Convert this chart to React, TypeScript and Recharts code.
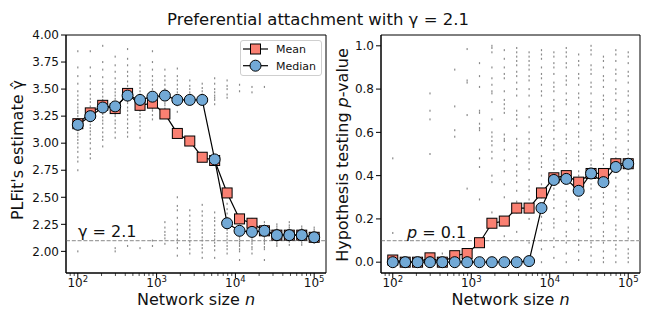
import React from 'react';
import {
  ComposedChart,
  Line,
  Scatter,
  XAxis,
  YAxis,
  ReferenceLine,
  ReferenceArea,
  Legend,
} from 'recharts';

const FONT = '"DejaVu Sans", sans-serif';
const TXT = '#111';
const MEAN_COLOR = '#FA8072';
const MEDIAN_COLOR = '#72A9D6';
const DOT_COLOR = '#8a8a8a';
const REF_COLOR = '#a0a0a0';

// ---------- data ----------
const nValues = [
  100, 144, 207, 298, 428, 616, 886, 1274, 1833, 2637, 3793, 5456, 7848, 11288,
  16238, 23357, 33598, 48329, 69519, 100000,
];

const meanGamma = [
  3.18, 3.28, 3.35, 3.32, 3.46, 3.35, 3.37, 3.27, 3.09, 3.02, 2.87, 2.84, 2.54,
  2.3, 2.26, 2.19, 2.15, 2.15, 2.15, 2.13,
];
const medianGamma = [
  3.17, 3.25, 3.33, 3.34, 3.44, 3.4, 3.43, 3.44, 3.4, 3.4, 3.4, 2.85, 2.26, 2.19,
  2.18, 2.19, 2.15, 2.15, 2.15, 2.13,
];

const meanP = [
  0.01, 0.0, 0.0, 0.02, 0.0, 0.03, 0.04, 0.09, 0.18, 0.19, 0.25, 0.25, 0.32,
  0.39, 0.4, 0.37, 0.41, 0.41, 0.455, 0.455,
];
const medianP = [
  0, 0, 0, 0, 0, 0, 0, 0, 0, 0, 0, 0.005, 0.25, 0.38, 0.385, 0.33, 0.41, 0.37,
  0.44, 0.455,
];

const gammaSamples = [
  [3.85, 3.7, 3.62, 3.55, 3.48, 3.44, 3.4, 3.36, 3.33, 3.3, 3.28, 3.25, 3.22, 3.2, 3.17, 3.14, 3.12, 3.09, 3.06, 3.03, 3.0, 2.96, 2.92, 2.87, 2.83, 2.75, 2.0],
  [3.85, 3.7, 3.62, 3.55, 3.5, 3.45, 3.41, 3.38, 3.34, 3.3, 3.27, 3.25, 3.22, 3.2, 3.17, 3.14, 3.11, 3.08, 3.04, 3.0, 2.95, 2.9, 2.86],
  [3.9, 3.75, 3.68, 3.61, 3.55, 3.5, 3.47, 3.43, 3.4, 3.37, 3.35, 3.32, 3.3, 3.27, 3.24, 3.21, 3.18, 3.14, 3.1, 3.06, 3.03, 2.97],
  [3.8, 3.72, 3.66, 3.6, 3.55, 3.5, 3.47, 3.44, 3.41, 3.38, 3.36, 3.33, 3.3, 3.27, 3.25, 3.21, 3.18, 3.14, 3.1, 3.05, 2.03, 2.0],
  [3.87, 3.78, 3.72, 3.66, 3.62, 3.57, 3.53, 3.49, 3.46, 3.44, 3.42, 3.39, 3.37, 3.33, 3.3, 3.26, 3.22, 3.18, 3.14, 3.1, 3.06, 2.05],
  [3.72, 3.66, 3.62, 3.58, 3.55, 3.51, 3.48, 3.45, 3.42, 3.4, 3.38, 3.35, 3.33, 3.3, 3.27, 3.24, 3.2, 3.16, 3.12, 3.05, 2.03],
  [3.85, 3.75, 3.68, 3.62, 3.58, 3.54, 3.5, 3.47, 3.44, 3.42, 3.4, 3.37, 3.35, 3.32, 3.3, 3.26, 3.22, 2.1, 2.05],
  [3.68, 3.62, 3.58, 3.54, 3.5, 3.47, 3.45, 3.43, 3.4, 3.37, 3.35, 3.32, 2.27, 2.22, 2.18, 2.15, 2.12, 2.07],
  [3.69, 3.62, 3.58, 3.54, 3.5, 3.47, 3.44, 3.42, 3.4, 3.37, 3.35, 3.29, 2.5, 2.42, 2.38, 2.31, 2.25, 2.2, 2.15, 2.11, 2.08, 2.03, 1.96],
  [3.58, 3.53, 3.5, 3.47, 3.45, 3.42, 3.4, 3.38, 2.38, 2.33, 2.28, 2.24, 2.2, 2.16, 2.13, 2.09, 2.06, 2.02, 1.98],
  [3.55, 3.51, 3.48, 3.45, 3.42, 3.4, 3.37, 2.43, 2.37, 2.33, 2.28, 2.24, 2.2, 2.17, 2.13, 2.1, 2.06, 2.03, 1.99, 1.94],
  [3.6, 3.55, 3.5, 3.47, 3.44, 3.42, 3.4, 3.36, 2.36, 2.31, 2.28, 2.24, 2.2, 2.17, 2.14, 2.11, 2.08, 2.05, 2.01, 1.94],
  [3.58, 3.53, 3.5, 3.45, 3.42, 2.44, 2.39, 2.35, 2.31, 2.27, 2.23, 2.2, 2.17, 2.14, 2.11, 2.08, 2.05, 2.02, 1.98],
  [3.54, 3.48, 2.32, 2.29, 2.26, 2.23, 2.21, 2.19, 2.17, 2.15, 2.13, 2.11, 2.09, 2.07, 2.05, 2.02, 2.0, 1.92],
  [3.52, 3.47, 2.3, 2.27, 2.24, 2.21, 2.19, 2.17, 2.15, 2.13, 2.11, 2.09, 2.07, 2.04, 2.02, 1.98],
  [3.52, 2.27, 2.24, 2.22, 2.2, 2.18, 2.16, 2.15, 2.13, 2.11, 2.09, 2.07, 2.04, 2.02, 1.92],
  [2.25, 2.23, 2.21, 2.19, 2.18, 2.16, 2.15, 2.14, 2.12, 2.11, 2.09, 2.07, 2.05],
  [2.27, 2.24, 2.22, 2.2, 2.18, 2.16, 2.15, 2.14, 2.12, 2.1, 2.09, 2.06],
  [2.23, 2.21, 2.2, 2.18, 2.17, 2.15, 2.14, 2.13, 2.11, 2.1, 2.08, 2.06],
  [2.22, 2.2, 2.18, 2.16, 2.15, 2.14, 2.13, 2.12, 2.11, 2.09, 2.08],
];

const pSamples = [
  [0.48, 0.135, 0.02, 0.0],
  [0.01, 0.0],
  [0.0, 0.0],
  [0.78, 0.7, 0.66, 0.5, 0.0],
  [0.04, 0.0],
  [0.89, 0.72, 0.61, 0.58, 0.02, 0.0],
  [0.985, 0.84, 0.83, 0.68, 0.34, 0.03, 0.0],
  [0.92, 0.86, 0.81, 0.7, 0.69, 0.64, 0.62, 0.61, 0.52, 0.48, 0.44, 0.29, 0.0],
  [1.0, 0.99, 0.97, 0.9, 0.85, 0.82, 0.79, 0.78, 0.74, 0.66, 0.6, 0.58, 0.56, 0.54, 0.51, 0.48, 0.4, 0.37, 0.23, 0.0],
  [0.98, 0.94, 0.9, 0.87, 0.85, 0.79, 0.75, 0.73, 0.71, 0.69, 0.59, 0.57, 0.56, 0.52, 0.47, 0.42, 0.36, 0.3, 0.12, 0.0],
  [0.99, 0.97, 0.95, 0.93, 0.91, 0.88, 0.86, 0.83, 0.8, 0.77, 0.7, 0.68, 0.66, 0.63, 0.57, 0.54, 0.52, 0.49, 0.45, 0.42, 0.4, 0.37, 0.33, 0.28, 0.23, 0.14, 0.0],
  [0.97, 0.95, 0.93, 0.91, 0.89, 0.86, 0.84, 0.8, 0.77, 0.72, 0.67, 0.6, 0.57, 0.55, 0.51, 0.48, 0.46, 0.43, 0.38, 0.35, 0.33, 0.29, 0.26, 0.2, 0.09, 0.0],
  [0.98, 0.96, 0.94, 0.9, 0.87, 0.85, 0.82, 0.79, 0.77, 0.72, 0.69, 0.66, 0.63, 0.58, 0.56, 0.54, 0.49, 0.46, 0.44, 0.4, 0.36, 0.33, 0.3, 0.25, 0.21, 0.18, 0.15, 0.1, 0.06, 0.0],
  [0.97, 0.95, 0.92, 0.9, 0.87, 0.83, 0.81, 0.79, 0.75, 0.72, 0.7, 0.65, 0.63, 0.61, 0.57, 0.54, 0.52, 0.47, 0.45, 0.43, 0.38, 0.34, 0.31, 0.29, 0.25, 0.2, 0.18, 0.16, 0.11, 0.07, 0.02],
  [0.99, 0.97, 0.95, 0.92, 0.9, 0.86, 0.84, 0.82, 0.78, 0.75, 0.73, 0.68, 0.66, 0.64, 0.59, 0.57, 0.55, 0.5, 0.48, 0.46, 0.41, 0.39, 0.37, 0.33, 0.28, 0.26, 0.23, 0.19, 0.14, 0.12, 0.09, 0.04, 0.0],
  [0.96, 0.93, 0.91, 0.87, 0.85, 0.82, 0.78, 0.76, 0.73, 0.69, 0.67, 0.64, 0.6, 0.58, 0.55, 0.51, 0.49, 0.47, 0.42, 0.4, 0.38, 0.33, 0.31, 0.29, 0.24, 0.21, 0.19, 0.15, 0.1, 0.08, 0.05, 0.01],
  [1.0, 0.98, 0.96, 0.91, 0.89, 0.87, 0.83, 0.81, 0.78, 0.74, 0.72, 0.69, 0.65, 0.63, 0.61, 0.56, 0.54, 0.52, 0.47, 0.45, 0.43, 0.39, 0.36, 0.34, 0.3, 0.27, 0.25, 0.21, 0.18, 0.16, 0.12, 0.09, 0.07, 0.03, 0.0],
  [0.95, 0.93, 0.9, 0.86, 0.84, 0.81, 0.77, 0.75, 0.72, 0.68, 0.66, 0.63, 0.59, 0.57, 0.54, 0.5, 0.48, 0.45, 0.41, 0.39, 0.36, 0.32, 0.3, 0.27, 0.23, 0.21, 0.18, 0.14, 0.12, 0.09, 0.05, 0.02, 0.0],
  [0.98, 0.96, 0.93, 0.89, 0.87, 0.84, 0.8, 0.78, 0.75, 0.71, 0.69, 0.66, 0.62, 0.6, 0.57, 0.53, 0.51, 0.48, 0.44, 0.42, 0.39, 0.35, 0.33, 0.3, 0.26, 0.24, 0.21, 0.17, 0.15, 0.12, 0.08, 0.06, 0.03, 0.0],
  [0.97, 0.95, 0.92, 0.88, 0.86, 0.83, 0.79, 0.77, 0.74, 0.7, 0.68, 0.65, 0.61, 0.59, 0.56, 0.52, 0.5, 0.47, 0.43, 0.41, 0.38, 0.34, 0.32, 0.29, 0.25, 0.23, 0.2, 0.16, 0.14, 0.11, 0.06, 0.04, 0.02, 0.0],
];

const xTicks = [
  80, 90, 100, 200, 300, 400, 500, 600, 700, 800, 900, 1000, 2000, 3000, 4000,
  5000, 6000, 7000, 8000, 9000, 10000, 20000, 30000, 40000, 50000, 60000, 70000,
  80000, 90000, 100000,
];
const gammaTicks = [2.0, 2.25, 2.5, 2.75, 3.0, 3.25, 3.5, 3.75, 4.0];
const pTicks = [0.0, 0.2, 0.4, 0.6, 0.8, 1.0];

const X_DOMAIN: [number, number] = [Math.pow(10, 1.85), Math.pow(10, 5.15)];
const GAMMA_DOMAIN: [number, number] = [1.8, 4.0];
const P_DOMAIN: [number, number] = [-0.05, 1.05];

// ---------- derived tables ----------
const gammaRows = nValues.map((n, i) => ({ n, mean: meanGamma[i], median: medianGamma[i] }));
const pRows = nValues.map((n, i) => ({ n, mean: meanP[i], median: medianP[i] }));
const gammaPoints = gammaSamples.flatMap((col, i) => col.map((v) => ({ n: nValues[i], v })));
const pPoints = pSamples.flatMap((col, i) => col.map((v) => ({ n: nValues[i], v })));

// ---------- renderers ----------
const isMajor = (v: number) => Math.abs(Math.log10(v) - Math.round(Math.log10(v))) < 1e-9;

function LogTick(props: any) {
  const { x, y, payload } = props;
  const v = payload.value as number;
  const major = isMajor(v);
  return (
    <g>
      <line x1={x} x2={x} y1={y} y2={y + (major ? 5 : 3)} stroke="#000" strokeWidth={major ? 1 : 0.7} />
      {major && (
        <text x={x} y={y + 14} textAnchor="middle" fontSize={12} fontFamily={FONT} fill={TXT}>
          10
          <tspan dy={-5.5} fontSize={8.5}>
            {Math.round(Math.log10(v))}
          </tspan>
        </text>
      )}
    </g>
  );
}

const squareDot = (p: any) => {
  if (p.cx == null || p.cy == null) return <g key={`s${p.index}`} />;
  return (
    <rect key={`s${p.index}`} x={p.cx - 5} y={p.cy - 5} width={10} height={10} fill={MEAN_COLOR} stroke="#000" strokeWidth={1} />
  );
};
const circleDot = (p: any) => {
  if (p.cx == null || p.cy == null) return <g key={`c${p.index}`} />;
  return <circle key={`c${p.index}`} cx={p.cx} cy={p.cy} r={5.5} fill={MEDIAN_COLOR} stroke="#000" strokeWidth={1} />;
};
const sampleShape = (p: any) => {
  if (p.cx == null || p.cy == null) return <g />;
  return <rect x={p.cx - 0.6} y={p.cy - 1} width={1.2} height={2} fill={DOT_COLOR} />;
};

function LegendBox(props: any) {
  const items = (props.payload || []).filter((e: any) => e.dataKey === 'mean' || e.dataKey === 'median');
  return (
    <div
      style={{
        width: 82,
        height: 36,
        border: '1px solid #cfcfcf',
        borderRadius: 3,
        background: 'rgba(255,255,255,0.85)',
        boxSizing: 'border-box',
      }}
    >
      <svg width={80} height={34} style={{ display: 'block' }}>
        {items.map((e: any, i: number) => {
          const cy = 8 + i * 16.7;
          return (
            <g key={e.dataKey}>
              <line x1={2} x2={27} y1={cy} y2={cy} stroke="#000" strokeWidth={1.2} />
              {e.dataKey === 'mean' ? (
                <rect x={14.5 - 5} y={cy - 5} width={10} height={10} fill={MEAN_COLOR} stroke="#000" />
              ) : (
                <circle cx={14.5} cy={cy} r={5.5} fill={MEDIAN_COLOR} stroke="#000" />
              )}
              <text x={35} y={cy + 4} fontSize={11} fontFamily={FONT} fill={TXT}>
                {e.value}
              </text>
            </g>
          );
        })}
      </svg>
    </div>
  );
}

const tickStyle = { fontSize: 12, fill: TXT, fontFamily: FONT };

export default function App() {
  return (
    <div style={{ position: 'absolute', left: 0, top: 0, width: 646, height: 310, background: '#fff', fontFamily: FONT }}>
      {/* Left panel */}
      <div style={{ position: 'absolute', left: 0, top: 0 }}>
        <ComposedChart width={330} height={310} data={gammaRows} margin={{ top: 35, right: 4, bottom: 0, left: 0 }}>
          <XAxis
            dataKey="n"
            type="number"
            scale="log"
            domain={X_DOMAIN}
            allowDataOverflow
            ticks={xTicks}
            interval={0}
            tick={<LogTick />}
            tickLine={false}
            tickSize={0}
            tickMargin={0}
            height={37}
            stroke="#000"
          />
          <YAxis
            type="number"
            domain={GAMMA_DOMAIN}
            allowDataOverflow
            ticks={gammaTicks}
            interval={0}
            tickFormatter={(v: number) => v.toFixed(2)}
            tick={tickStyle}
            tickSize={5}
            tickMargin={2}
            width={66}
            stroke="#000"
          />
          <Scatter data={gammaPoints} dataKey="v" shape={sampleShape} legendType="none" isAnimationActive={false} />
          <ReferenceLine
            y={2.1}
            stroke={REF_COLOR}
            strokeWidth={1.2}
            strokeDasharray="4 1.8"
            label={(p: any) => (
              <text x={p.viewBox.x + 12} y={p.viewBox.y - 3.5} fontSize={16} fontFamily={FONT} fill={TXT}>
                γ = 2.1
              </text>
            )}
          />
          <Line dataKey="mean" name="Mean" type="linear" stroke="#000" strokeWidth={1.2} dot={squareDot} activeDot={false} isAnimationActive={false} />
          <Line dataKey="median" name="Median" type="linear" stroke="#000" strokeWidth={1.2} dot={circleDot} activeDot={false} isAnimationActive={false} />
          <ReferenceArea
            x1={X_DOMAIN[0]}
            x2={X_DOMAIN[1]}
            y1={GAMMA_DOMAIN[0]}
            y2={GAMMA_DOMAIN[1]}
            fill="none"
            stroke="#000"
            strokeWidth={1}
            ifOverflow="visible"
          />
          <Legend
            layout="vertical"
            align="center"
            verticalAlign="middle"
            content={<LegendBox />}
            wrapperStyle={{ left: 240, top: 40, width: 82, height: 36 }}
          />
        </ComposedChart>
      </div>

      {/* Right panel */}
      <div style={{ position: 'absolute', left: 330, top: 0 }}>
        <ComposedChart width={316} height={310} data={pRows} margin={{ top: 35, right: 6, bottom: 0, left: 0 }}>
          <XAxis
            dataKey="n"
            type="number"
            scale="log"
            domain={X_DOMAIN}
            allowDataOverflow
            ticks={xTicks}
            interval={0}
            tick={<LogTick />}
            tickLine={false}
            tickSize={0}
            tickMargin={0}
            height={37}
            stroke="#000"
          />
          <YAxis
            type="number"
            domain={P_DOMAIN}
            allowDataOverflow
            ticks={pTicks}
            interval={0}
            tickFormatter={(v: number) => v.toFixed(1)}
            tick={tickStyle}
            tickSize={5}
            tickMargin={2}
            width={51}
            stroke="#000"
          />
          <Scatter data={pPoints} dataKey="v" shape={sampleShape} legendType="none" isAnimationActive={false} />
          <ReferenceLine
            y={0.1}
            stroke={REF_COLOR}
            strokeWidth={1.2}
            strokeDasharray="4 1.8"
            label={(p: any) => (
              <text x={p.viewBox.x + 26} y={p.viewBox.y - 3} fontSize={16} fontFamily={FONT} fill={TXT}>
                <tspan fontStyle="italic">p</tspan> = 0.1
              </text>
            )}
          />
          <Line dataKey="mean" name="Mean" type="linear" stroke="#000" strokeWidth={1.2} dot={squareDot} activeDot={false} isAnimationActive={false} />
          <Line dataKey="median" name="Median" type="linear" stroke="#000" strokeWidth={1.2} dot={circleDot} activeDot={false} isAnimationActive={false} />
          <ReferenceArea
            x1={X_DOMAIN[0]}
            x2={X_DOMAIN[1]}
            y1={P_DOMAIN[0]}
            y2={P_DOMAIN[1]}
            fill="none"
            stroke="#000"
            strokeWidth={1}
            ifOverflow="visible"
          />
        </ComposedChart>
      </div>

      {/* Titles and axis labels */}
      <svg width={646} height={310} style={{ position: 'absolute', left: 0, top: 0, pointerEvents: 'none' }}>
        <text x={318} y={25} textAnchor="middle" fontSize={16.5} fontFamily={FONT} fill={TXT}>
          Preferential attachment with γ = 2.1
        </text>
        <text x={196} y={305} textAnchor="middle" fontSize={16} fontFamily={FONT} fill={TXT}>
          Network size <tspan fontStyle="italic">n</tspan>
        </text>
        <text x={510.5} y={305} textAnchor="middle" fontSize={16} fontFamily={FONT} fill={TXT}>
          Network size <tspan fontStyle="italic">n</tspan>
        </text>
        <text x={0} y={0} transform="translate(23,150) rotate(-90)" textAnchor="middle" fontSize={16} fontFamily={FONT} fill={TXT}>
          PLFit's estimate γ̂
        </text>
        <text x={0} y={0} transform="translate(348,155) rotate(-90)" textAnchor="middle" fontSize={16} fontFamily={FONT} fill={TXT}>
          Hypothesis testing <tspan fontStyle="italic">p</tspan>-value
        </text>
      </svg>
    </div>
  );
}
